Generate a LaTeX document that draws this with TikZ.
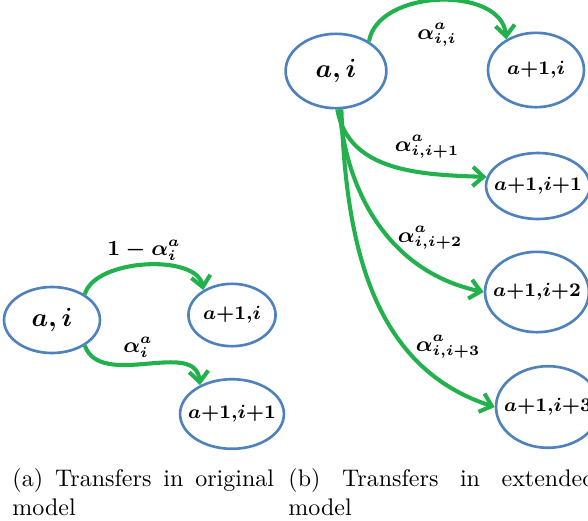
\documentclass[tikz,border=0pt]{standalone}
\usepackage{amsmath}
\usetikzlibrary{shapes.geometric, arrows.meta}

\definecolor{stateblue}{RGB}{79,129,189}
\definecolor{flowgreen}{RGB}{35,177,77}
\def\px{0.4167pt} % one pixel of the reference
\hyphenpenalty=10000
\tolerance=9999

\tikzset{
  state/.style={ellipse, draw=stateblue, line width=1.1pt, inner sep=0pt},
  srcstate/.style={state, font=\fontsize{10.5}{12}\selectfont},
  dststate/.style={state, inner xsep=-3pt, font=\fontsize{8}{10}\selectfont},
  flow/.style={draw=flowgreen, line width=1.7pt, -{Straight Barb[length=4.5pt,width=8pt]}},
  rate/.style={inner sep=0pt, font=\fontsize{9}{11}\selectfont},
  subcap/.style={inner sep=0pt, align=justify, anchor=north west},
}

\begin{document}
\begin{tikzpicture}[x=\px, y=\px]
    \useasboundingbox (0,0) rectangle (588,-520);

    % --- (a) original model ---
    \node[srcstate, minimum width=40pt, minimum height=27.5pt] (Aai) at (52,-320) {$\boldsymbol{a,i}$};
    \node[dststate, minimum width=36.3pt, minimum height=26pt] (Aa1i) at (232,-315) {$\boldsymbol{a{+}1{,}i}$};
    \node[dststate, minimum width=36.3pt, minimum height=29pt] (Aa1i1) at (232,-414) {$\boldsymbol{a{+}1{,}i{+}1}$};

    \draw[flow] (Aai.38) to[out=75, in=100, looseness=0.8] (Aa1i.139);
    \draw[flow] (Aai.-38) to[out=-70, in=95] (Aa1i1.138);

    \node[rate] (Lstay) at (144,-250) {$\boldsymbol{1-\alpha_i^a}$};
    \node[rate] (Lmove) at (138,-347) {$\boldsymbol{\alpha_i^a}$};

    % --- (b) extended model ---
    \node[srcstate, minimum width=42pt, minimum height=31pt] (Bai) at (336,-71) {$\boldsymbol{a,i}$};
    \node[dststate, minimum width=40pt, minimum height=31pt] (Ba1i) at (536,-70) {$\boldsymbol{a{+}1{,}i}$};
    \node[dststate, minimum width=41.7pt, minimum height=27.5pt] (Ba1i1) at (538,-186) {$\boldsymbol{a{+}1{,}i{+}1}$};
    \node[dststate, minimum width=41.7pt, minimum height=33.5pt] (Ba1i2) at (537,-292) {$\boldsymbol{a{+}1{,}i{+}2}$};
    \node[dststate, minimum width=41.7pt, minimum height=34pt] (Ba1i3) at (548,-407) {$\boldsymbol{a{+}1{,}i{+}3}$};

    \draw[flow] (Bai.42) to[out=80, in=95] (Ba1i.134);
    \draw[flow] (Bai.-88) to[out=-80, in=178] (Ba1i1.170);
    \draw[flow] (Bai.-85) to[out=-85, in=168] (Ba1i2.west);
    \draw[flow] (Bai.-82) to[out=-88, in=162] (Ba1i3.west);

    \node[rate] (Lii)  at (437,-35)  {$\boldsymbol{\alpha_{i,i}^a}$};
    \node[rate] (Lii1) at (427,-147) {$\boldsymbol{\alpha_{i,i+1}^a}$};
    \node[rate] (Lii2) at (430,-238) {$\boldsymbol{\alpha_{i,i+2}^a}$};
    \node[rate] (Lii3) at (448,-347) {$\boldsymbol{\alpha_{i,i+3}^a}$};

    % --- captions ---
    \node[subcap, text width=109pt] (capa) at (12,-468) {(a) Transfers in original model};
    \node[subcap, text width=128pt] (capb) at (288,-468) {(b) Transfers in extended model};
\end{tikzpicture}
\end{document}
